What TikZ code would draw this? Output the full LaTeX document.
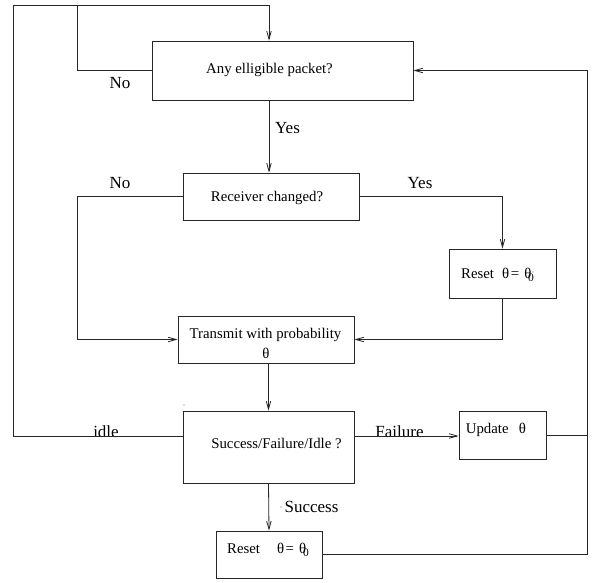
\documentclass[tikz,border=0pt]{standalone}
\usepackage{fontspec}
\setmainfont{Liberation Serif}
\usetikzlibrary{arrows.meta}
\tikzset{
  box/.style={draw=black!85, line width=0.8pt, rectangle, inner sep=0pt},
  conn/.style={draw=black!85, line width=0.8pt},
  arr/.style={conn, -{Straight Barb[length=8pt,width=4.5pt]}},
  btext/.style={inner sep=0pt, font=\fontsize{14.8}{17}\selectfont},
  ltext/.style={inner sep=0pt, font=\fontsize{17}{19}\selectfont},
}
\newcommand{\thzero}{θ\kern-0.22em\raisebox{-0.55ex}{\fontsize{11.5}{12}\selectfont 0}}
\begin{document}
\begin{tikzpicture}[x=1pt,y=-1pt]
\useasboundingbox (0,0) rectangle (595,583);
% boxes
\node[box, minimum width=261pt, minimum height=59pt] (b1) at (282.5,70.5) {};
\node[box, minimum width=176pt, minimum height=47pt] (b2) at (271,196.5) {};
\node[box, minimum width=107pt, minimum height=49pt] (r1) at (502.5,273.5) {};
\node[box, minimum width=176pt, minimum height=47pt] (b3) at (266,339.5) {};
\node[box, minimum width=171pt, minimum height=72pt] (b4) at (268.5,447) {};
\node[box, minimum width=87pt, minimum height=48pt] (up) at (502.5,435) {};
\node[box, minimum width=106pt, minimum height=47pt] (r2) at (269,554.5) {};
% box texts
\node[btext] (t1) at (269.5,70) {Any elligible packet?};
\node[btext] (t2) at (267,198) {Receiver changed?};
\node[btext] (t3a) at (265.5,335) {Transmit with probability};
\node[btext] (t3b) at (266,353) {θ};
\node[btext] (t4) at (276.5,443) {Success/Failure/Idle ?};
\node[btext] (tu) at (496,430) {Update\hspace{0.7em}θ};
\node[btext, anchor=west] (tr1) at (461,275) {Reset\hspace{0.55em}θ\kern0.1em=\kern0.35emθ\kern-0.22em\raisebox{-0.55ex}{\fontsize{11.5}{12}\selectfont 0}};
\node[btext, anchor=west] (tr2) at (227,550) {Reset\hspace{1.15em}θ\kern0.1em=\kern0.35em\thzero};
% labels
\node[ltext] (lno1) at (120,83) {No};
\node[ltext] (lyes1) at (287.5,128) {Yes};
\node[ltext] (lno2) at (120,183) {No};
\node[ltext] (lyes2) at (420,183) {Yes};
\node[ltext, anchor=base] (lidle) at (106,437) {idle};
\node[ltext, anchor=base] (lfail) at (399.5,437) {Failure};
\node[ltext] (lsucc) at (311.5,507) {Success};
% bend coordinates
\coordinate (cl) at (13,436);
\coordinate (ctl) at (13,5);
\coordinate (ctm) at (77,5);
\coordinate (ctr) at (269,5);
\coordinate (cnl) at (77,196.5);
\coordinate (crb) at (587,554.5);
\coordinate (crt) at (587,70.5);
\coordinate (cru) at (587,435);
% connectors
\draw[arr] ([yshift=11pt]b4.west) -- (cl) -- (ctl) -- (ctr) -- ([xshift=-13.5pt]b1.north);
\draw[conn] (b1.west) -| (ctm);
\draw[arr] ([xshift=-13.5pt]b1.south) -- ([xshift=-13.5pt]b1.south |- b2.north);
\draw[arr] (b2.west) -- (cnl) |- (b3.west);
\draw[arr] (b2.east) -| (r1.north);
\draw[arr] (r1.south) |- (b3.east);
\draw[arr] (b3.south -| b4.north) -- (b4.north);
\draw[arr] ([yshift=11pt]b4.east) -- ([yshift=11pt]b4.east -| up.west);
\draw[conn] (up.east) -- (cru);
\draw[arr] (b4.south) -- (r2.north);
\draw[arr] (r2.east) -- (crb) -- (crt) -- (b1.east);
% stray dots
\fill[black!60] (184,405) circle (0.6pt);
\fill[black!60] (281,507) circle (0.6pt);
\fill[black!60] (533,272) circle (0.6pt);
\end{tikzpicture}
\end{document}
